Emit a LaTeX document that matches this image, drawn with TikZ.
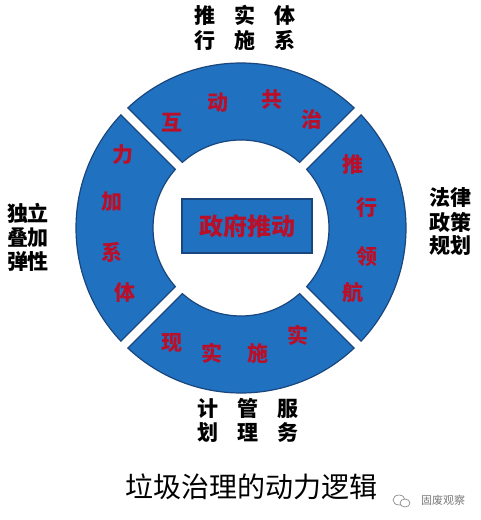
\documentclass[tikz,border=0pt]{standalone}
\usepackage{fontspec}
\newfontfamily\cjk{Noto Sans CJK SC}
\definecolor{segblue}{RGB}{33,113,193}
\definecolor{segedge}{RGB}{25,70,125}
\definecolor{segred}{RGB}{185,15,40}
\definecolor{wmgray}{RGB}{120,120,120}
\begin{document}
\begin{tikzpicture}[x=1pt,y=1pt,
  seg/.style={fill=segblue,draw=segedge,line width=1.2pt},
  seglabel/.style={font=\cjk\bfseries\fontsize{21}{21}\selectfont,text=segred,inner sep=0pt},
  sidelabel/.style={font=\cjk\bfseries\fontsize{21}{21}\selectfont,text=black,inner sep=0pt},
  boxlabel/.style={font=\cjk\bfseries\fontsize{24}{24}\selectfont,text=segred,inner sep=0pt}]
\fill[white] (0,0) rectangle (480,520);
\useasboundingbox (0,0) rectangle (480,520);
% ring segments
\foreach \a in {45,135,225,315} {
  \filldraw[seg] ([shift={(241,292)}]\a+1.74:165pt)
    arc[start angle=\a+1.74, end angle=\a+88.26, radius=165pt]
    -- ([shift={(241,292)}]\a+86.74:88pt)
    arc[start angle=\a+86.74, end angle=\a+3.26, radius=88pt] -- cycle;
}
% centre box
\filldraw[seg] (182,267) rectangle (312,321);
\node[boxlabel] (center) at (247,294) {政府推动};
% top segment
\node[seglabel] (t1) at (172,397) {互};
\node[seglabel] (t2) at (218,417) {动};
\node[seglabel] (t3) at (272,420) {共};
\node[seglabel] (t4) at (312,400) {治};
% right segment
\node[seglabel] (r1) at (353,355) {推};
\node[seglabel] (r2) at (367,312) {行};
\node[seglabel] (r3) at (367,263) {领};
\node[seglabel] (r4) at (353,227) {航};
% bottom segment
\node[seglabel] (b1) at (172,177) {现};
\node[seglabel] (b2) at (212,167) {实};
\node[seglabel] (b3) at (258,167) {施};
\node[seglabel] (b4) at (298,185) {实};
% left segment
\node[seglabel] (l1) at (123,365) {力};
\node[seglabel] (l2) at (112,318) {加};
\node[seglabel] (l3) at (112,268) {系};
\node[seglabel] (l4) at (125,227) {体};
% outside labels
\node[sidelabel] (top1) at (245,505) {推\hspace{19pt}实\hspace{19pt}体};
\node[sidelabel] (top2) at (245,480) {行\hspace{19pt}施\hspace{19pt}系};
\node[sidelabel] (left1) at (28,307) {独立};
\node[sidelabel] (left2) at (28,282) {叠加};
\node[sidelabel] (left3) at (28,258) {弹性};
\node[sidelabel] (right1) at (450,322) {法律};
\node[sidelabel] (right2) at (450,298) {政策};
\node[sidelabel] (right3) at (450,274) {规划};
\node[sidelabel] (bot1) at (248,112) {计\hspace{19pt}管\hspace{19pt}服};
\node[sidelabel] (bot2) at (248,87) {划\hspace{19pt}理\hspace{19pt}务};
% title
\node[font=\cjk\fontsize{28}{28}\selectfont,inner sep=0pt] (title) at (251,33) {垃圾治理的动力逻辑};
% watermark
\draw[wmgray,line width=0.6pt] (399,20) ellipse (6pt and 5pt);
\draw[wmgray,line width=0.6pt,fill=white] (405,17) ellipse (5pt and 4pt);
\node[font=\cjk\fontsize{11}{11}\selectfont,text=wmgray,inner sep=0pt] (wm) at (443,20) {固废观察};
\end{tikzpicture}
\end{document}
